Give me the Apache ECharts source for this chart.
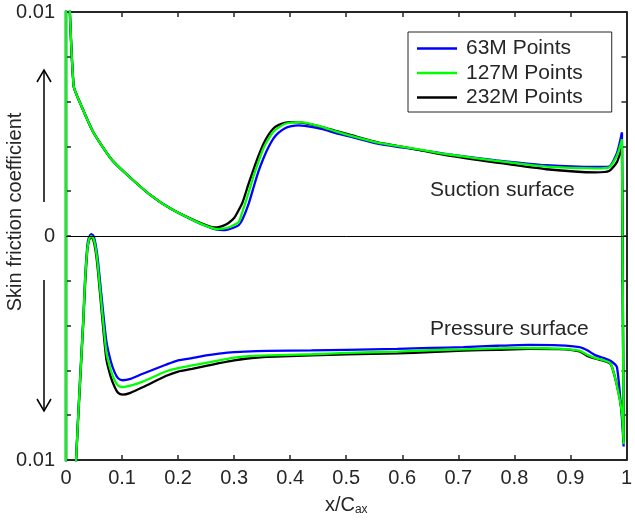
<!DOCTYPE html>
<html>
<head>
<meta charset="utf-8">
<script src="https://cdn.jsdelivr.net/npm/echarts@6/dist/echarts.min.js"></script>
<style>
  html, body { margin: 0; padding: 0; background: #fff; }
  #chart { width: 635px; height: 521px; }
</style>
</head>
<body>
<div id="chart"></div>
<script>
// ---- Data (skin friction in units of 1e-3) ----
const seriesNames = ['63M Points', '127M Points', '232M Points'];
const seriesColors = ['#0000ff', '#00ff00', '#000000'];

// Suction surface, leading edge -> trailing edge
const suctionX = [0.0042, 0.0048, 0.0136, 0.025, 0.049, 0.081, 0.111, 0.152, 0.188, 0.235, 0.26, 0.27, 0.28, 0.29, 0.30, 0.308, 0.315, 0.326, 0.335, 0.343, 0.352, 0.361, 0.37, 0.379, 0.39, 0.402, 0.415, 0.426, 0.44, 0.461, 0.48, 0.509, 0.556, 0.591, 0.627, 0.68, 0.768, 0.857, 0.945, 0.969, 0.983, 0.992];
const suction63 = [50, 12, 6.7, 5.95, 4.62, 3.43, 2.69, 1.8, 1.2, 0.6, 0.35, 0.28, 0.26, 0.3, 0.38, 0.48, 0.75, 1.45, 2.2, 2.85, 3.45, 3.95, 4.35, 4.6, 4.8, 4.9, 4.94, 4.92, 4.86, 4.75, 4.6, 4.42, 4.12, 3.98, 3.86, 3.65, 3.38, 3.16, 3.08, 3.1, 3.7, 4.62];
const suction127 = [50, 12, 6.7, 5.95, 4.62, 3.43, 2.69, 1.8, 1.2, 0.61, 0.36, 0.31, 0.33, 0.38, 0.5, 0.61, 1.1, 1.95, 2.7, 3.28, 3.9, 4.32, 4.65, 4.84, 5.0, 5.06, 5.08, 5.06, 4.98, 4.84, 4.68, 4.47, 4.17, 4.02, 3.88, 3.65, 3.35, 3.1, 3.02, 3.06, 3.58, 4.32];
const suction232 = [50, 12, 6.7, 5.95, 4.62, 3.43, 2.69, 1.8, 1.2, 0.63, 0.4, 0.38, 0.45, 0.58, 0.8, 1.15, 1.5, 2.35, 3.0, 3.55, 4.1, 4.5, 4.8, 4.95, 5.05, 5.08, 5.07, 5.04, 4.97, 4.84, 4.7, 4.5, 4.18, 4.02, 3.86, 3.6, 3.28, 2.98, 2.84, 2.9, 3.3, 3.96];

// Pressure surface (plotted negative), trailing edge -> leading edge
const pressureX = [0.995, 0.992, 0.983, 0.972, 0.96, 0.945, 0.93, 0.916, 0.88, 0.827, 0.77, 0.709, 0.65, 0.591, 0.5, 0.438, 0.36, 0.32, 0.3, 0.273, 0.25, 0.225, 0.2, 0.178, 0.137, 0.115, 0.101, 0.093, 0.087, 0.08, 0.072, 0.063, 0.057, 0.053, 0.049, 0.045, 0.041, 0.038, 0.034, 0.031, 0.025, 0.018, 0.012, 0, 0];
const pressure63 = [-9.4, -8.15, -5.85, -5.58, -5.45, -5.33, -5.1, -4.96, -4.88, -4.86, -4.9, -4.96, -5.0, -5.04, -5.08, -5.11, -5.13, -5.16, -5.18, -5.25, -5.33, -5.45, -5.55, -5.75, -6.15, -6.38, -6.44, -6.35, -6.1, -5.6, -4.7, -2.6, -1.1, -0.4, 0.0, 0.08, -0.05, -0.45, -1.9, -3.6, -6.4, -10, -15, -50, 50];
const pressure127 = [-9.3, -7.93, -6.67, -5.7, -5.55, -5.45, -5.3, -5.12, -5.03, -5.0, -5.02, -5.06, -5.1, -5.16, -5.22, -5.28, -5.33, -5.37, -5.43, -5.55, -5.66, -5.78, -5.9, -6.05, -6.5, -6.68, -6.74, -6.68, -6.45, -6.0, -5.18, -2.95, -1.35, -0.55, -0.12, 0.0, -0.15, -0.6, -2.0, -3.7, -6.5, -10, -15, -50, 50];
const pressure232 = [-9.2, -7.9, -6.67, -5.72, -5.58, -5.48, -5.35, -5.15, -5.05, -5.04, -5.08, -5.12, -5.18, -5.24, -5.28, -5.33, -5.4, -5.48, -5.55, -5.68, -5.8, -5.93, -6.05, -6.25, -6.75, -7.0, -7.08, -7.0, -6.75, -6.3, -5.5, -3.2, -1.55, -0.7, -0.2, -0.02, -0.2, -0.65, -2.2, -3.8, -6.6, -10, -15, -50, 50];

// Tick labels
const xTickLabels = ['0', '0.1', '0.2', '0.3', '0.4', '0.5', '0.6', '0.7', '0.8', '0.9', '1'];
const yTickValues = [-10, 0, 10];
const yTickLabels = ['0.01', '0', '0.01'];

// ---- Build ----
function pairs(xs, ys) { return xs.map((x, i) => [x, ys[i]]); }
const surfaceData = {
  '63M Points': { s: pairs(suctionX, suction63), p: pairs(pressureX, pressure63) },
  '127M Points': { s: pairs(suctionX, suction127), p: pairs(pressureX, pressure127) },
  '232M Points': { s: pairs(suctionX, suction232), p: pairs(pressureX, pressure232) }
};

const FONT = "'Liberation Sans', Arial, Helvetica, sans-serif";
const AX = '#262626';

const chart = echarts.init(document.getElementById('chart'), null, { renderer: 'canvas' });

function mkLine(name, color, data, withZero) {
  const s = {
    name: name, type: 'line', data: data,
    showSymbol: false, symbol: 'none',
    smooth: 0.2,
    lineStyle: { color: color, width: 2.3 }, itemStyle: { color: color },
    clip: true, animation: false
  };
  if (withZero) {
    s.markLine = {
      silent: true, symbol: 'none', label: { show: false },
      lineStyle: { color: '#000', width: 1, type: 'solid' },
      data: [{ yAxis: 0 }]
    };
  }
  return s;
}
function mkSeries(idx, withZero) {
  const name = seriesNames[idx], color = seriesColors[idx], d = surfaceData[name];
  const lastS = d.s[d.s.length - 1];
  return [
    mkLine(name, color, d.s, withZero),
    mkLine(name, color, [lastS].concat(d.p), false)
  ];
}

const commonTick = { show: true, inside: true, length: 5, lineStyle: { color: AX, width: 1.5 } };
const commonLine = { show: true, onZero: false, lineStyle: { color: AX, width: 2 } };

const option = {
  animation: false,
  backgroundColor: '#fff',
  textStyle: { fontFamily: FONT },
  grid: { left: 66, right: 4, top: 12, bottom: 60, containLabel: false },
  legend: {
    data: seriesNames,
    orient: 'vertical', left: 408, top: 32,
    backgroundColor: '#fff', borderColor: AX, borderWidth: 1, borderRadius: 0,
    padding: [6, 29, 4, 9],
    itemWidth: 40, itemHeight: 2.5, itemGap: 3.5,
    icon: 'rect',
    textStyle: { fontSize: 21, color: AX, fontFamily: FONT, lineHeight: 21, padding: [0, 0, 0, 4] }
  },
  xAxis: [
    {
      type: 'value', min: 0, max: 1, interval: 0.1, position: 'bottom',
      axisLine: commonLine, axisTick: commonTick, splitLine: { show: false },
      axisLabel: {
        fontSize: 20, color: AX, fontFamily: FONT, margin: 8,
        formatter: v => xTickLabels[Math.round(v * 10)]
      },
      name: 'x/C{sub|ax}', nameLocation: 'middle', nameGap: 34,
      nameTextStyle: {
        fontSize: 20, color: AX, fontFamily: FONT,
        rich: { sub: { fontSize: 12, color: AX, fontFamily: FONT, verticalAlign: 'bottom', padding: [10, 0, 0, 0] } }
      }
    },
    {
      type: 'value', min: 0, max: 1, interval: 0.1, position: 'top',
      axisLine: commonLine, axisTick: commonTick, axisLabel: { show: false }, splitLine: { show: false }
    }
  ],
  yAxis: [
    {
      type: 'value', min: -10, max: 10, interval: 2, position: 'left',
      axisLine: commonLine, axisTick: commonTick, splitLine: { show: false },
      axisLabel: {
        fontSize: 20, color: AX, fontFamily: FONT, margin: 11,
        formatter: v => { const i = yTickValues.findIndex(t => Math.abs(t - v) < 1e-6); return i >= 0 ? yTickLabels[i] : ''; }
      }
    },
    {
      type: 'value', min: -10, max: 10, interval: 2, position: 'right',
      axisLine: commonLine, axisTick: commonTick, axisLabel: { show: false }, splitLine: { show: false }
    }
  ],
  series: [].concat(mkSeries(0, true), mkSeries(2, false), mkSeries(1, false)),
  graphic: [
    { type: 'text', x: 15, y: 212, rotation: Math.PI / 2,
      style: { text: 'Skin friction coefficient', fontSize: 20, fill: AX, fontFamily: FONT, align: 'center', verticalAlign: 'middle' } },
    { type: 'polyline', shape: { points: [[44, 202], [44, 70]] }, style: { stroke: '#000', lineWidth: 1.5, fill: null } },
    { type: 'polyline', shape: { points: [[37, 82], [44, 70], [51, 82]] }, style: { stroke: '#000', lineWidth: 1.5, fill: null } },
    { type: 'polyline', shape: { points: [[44, 280], [44, 411]] }, style: { stroke: '#000', lineWidth: 1.5, fill: null } },
    { type: 'polyline', shape: { points: [[37, 399], [44, 411], [51, 399]] }, style: { stroke: '#000', lineWidth: 1.5, fill: null } },
    { type: 'text', x: 430, y: 190,
      style: { text: 'Suction surface', fontSize: 21, fill: AX, fontFamily: FONT, align: 'left', verticalAlign: 'middle' } },
    { type: 'text', x: 430, y: 329,
      style: { text: 'Pressure surface', fontSize: 21, fill: AX, fontFamily: FONT, align: 'left', verticalAlign: 'middle' } }
  ]
};
chart.setOption(option);
</script>
</body>
</html>
